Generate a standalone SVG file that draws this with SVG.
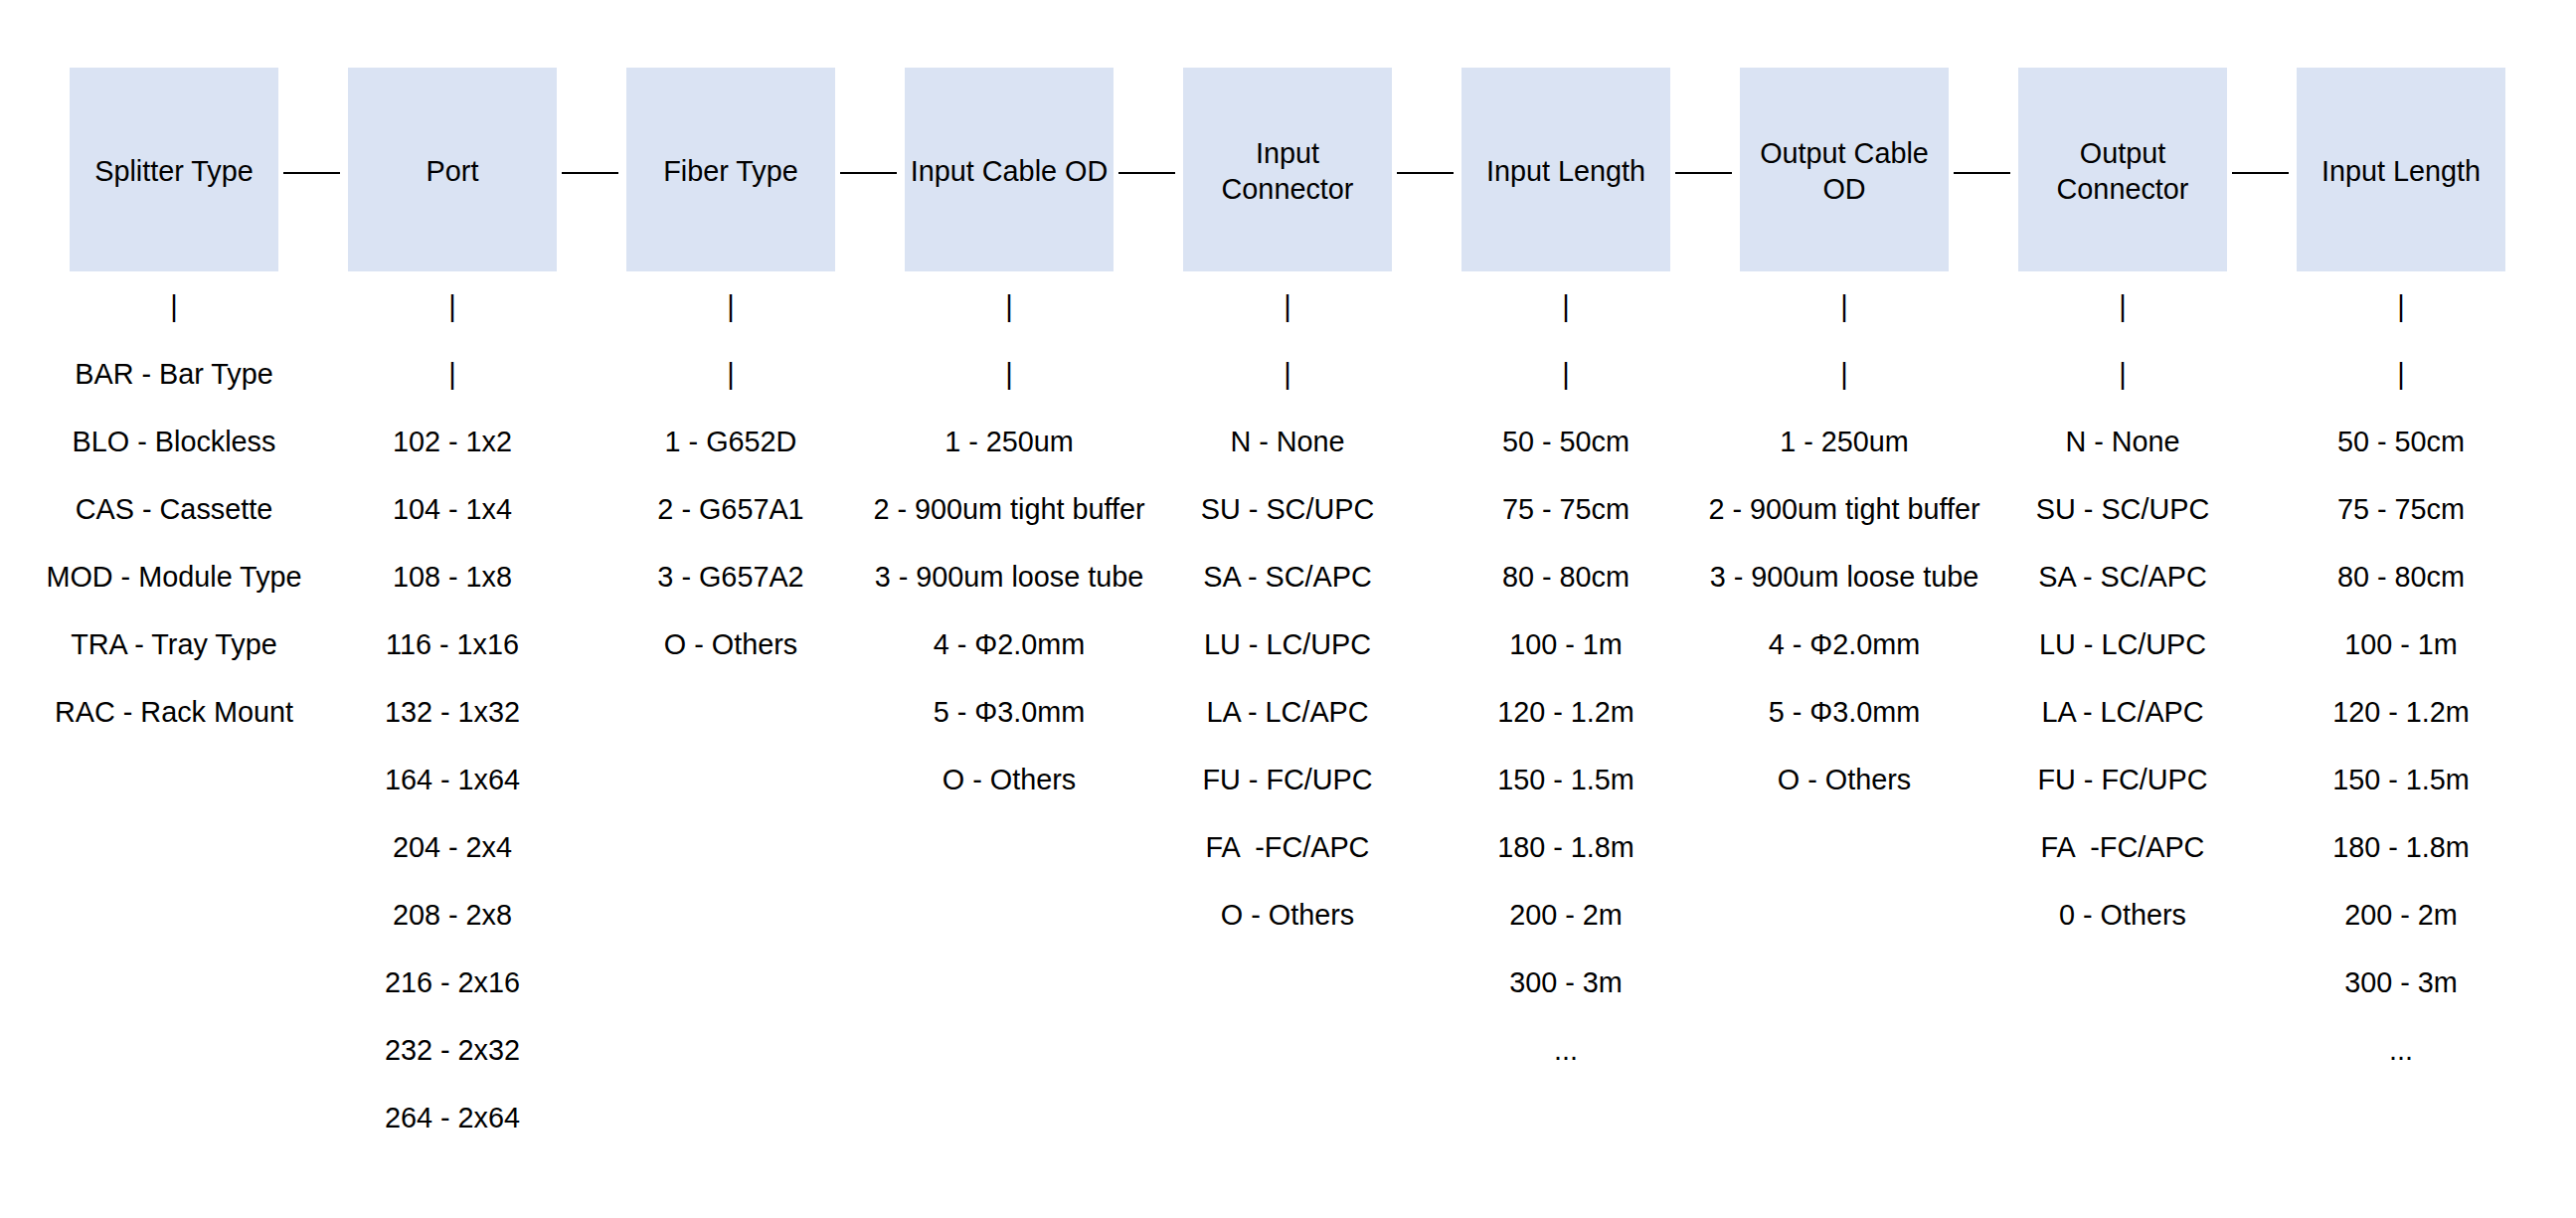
<svg xmlns="http://www.w3.org/2000/svg" width="2591" height="1225" viewBox="0 0 2591 1225">
<style>
.box{fill:#DAE3F3;stroke:none}
.t{font-family:"Liberation Sans",Arial,sans-serif;font-size:28.8px;fill:#000;text-anchor:middle}
.c{stroke:#000;stroke-width:2;fill:none}
</style>
<rect width="2591" height="1225" fill="#fff"/>
<g id="connectors">
<line class="c" x1="285" y1="174" x2="342" y2="174"/>
<line class="c" x1="565" y1="174" x2="622" y2="174"/>
<line class="c" x1="845" y1="174" x2="902" y2="174"/>
<line class="c" x1="1125" y1="174" x2="1182" y2="174"/>
<line class="c" x1="1405" y1="174" x2="1462" y2="174"/>
<line class="c" x1="1685" y1="174" x2="1742" y2="174"/>
<line class="c" x1="1965" y1="174" x2="2022" y2="174"/>
<line class="c" x1="2245" y1="174" x2="2302" y2="174"/>
</g>
<g id="node-splitter-type"><rect class="box" x="70" y="68" width="210" height="205"/><text class="t" x="175" y="181.5">Splitter Type</text></g>
<g id="node-port"><rect class="box" x="350" y="68" width="210" height="205"/><text class="t" x="455" y="181.5">Port</text></g>
<g id="node-fiber-type"><rect class="box" x="630" y="68" width="210" height="205"/><text class="t" x="735" y="181.5">Fiber Type</text></g>
<g id="node-input-cable-od"><rect class="box" x="910" y="68" width="210" height="205"/><text class="t" x="1015" y="181.5">Input Cable OD</text></g>
<g id="node-input-connector"><rect class="box" x="1190" y="68" width="210" height="205"/><text class="t" x="1295" y="163.5">Input</text><text class="t" x="1295" y="199.5">Connector</text></g>
<g id="node-input-length"><rect class="box" x="1470" y="68" width="210" height="205"/><text class="t" x="1575" y="181.5">Input Length</text></g>
<g id="node-output-cable-od"><rect class="box" x="1750" y="68" width="210" height="205"/><text class="t" x="1855" y="163.5">Output Cable</text><text class="t" x="1855" y="199.5">OD</text></g>
<g id="node-output-connector"><rect class="box" x="2030" y="68" width="210" height="205"/><text class="t" x="2135" y="163.5">Output</text><text class="t" x="2135" y="199.5">Connector</text></g>
<g id="node-input-length-2"><rect class="box" x="2310" y="68" width="210" height="205"/><text class="t" x="2415" y="181.5">Input Length</text></g>

<g id="list-splitter-type">
<text class="t" x="175" y="318">|</text>
<text class="t" x="175" y="386">BAR - Bar Type</text>
<text class="t" x="175" y="454">BLO - Blockless</text>
<text class="t" x="175" y="522">CAS - Cassette</text>
<text class="t" x="175" y="590">MOD - Module Type</text>
<text class="t" x="175" y="658">TRA - Tray Type</text>
<text class="t" x="175" y="726">RAC - Rack Mount</text>
</g>
<g id="list-port">
<text class="t" x="455" y="318">|</text>
<text class="t" x="455" y="386">|</text>
<text class="t" x="455" y="454">102 - 1x2</text>
<text class="t" x="455" y="522">104 - 1x4</text>
<text class="t" x="455" y="590">108 - 1x8</text>
<text class="t" x="455" y="658">116 - 1x16</text>
<text class="t" x="455" y="726">132 - 1x32</text>
<text class="t" x="455" y="794">164 - 1x64</text>
<text class="t" x="455" y="862">204 - 2x4</text>
<text class="t" x="455" y="930">208 - 2x8</text>
<text class="t" x="455" y="998">216 - 2x16</text>
<text class="t" x="455" y="1066">232 - 2x32</text>
<text class="t" x="455" y="1134">264 - 2x64</text>
</g>
<g id="list-fiber-type">
<text class="t" x="735" y="318">|</text>
<text class="t" x="735" y="386">|</text>
<text class="t" x="735" y="454">1 - G652D</text>
<text class="t" x="735" y="522">2 - G657A1</text>
<text class="t" x="735" y="590">3 - G657A2</text>
<text class="t" x="735" y="658">O - Others</text>
</g>
<g id="list-input-cable-od">
<text class="t" x="1015" y="318">|</text>
<text class="t" x="1015" y="386">|</text>
<text class="t" x="1015" y="454">1 - 250um</text>
<text class="t" x="1015" y="522">2 - 900um tight buffer</text>
<text class="t" x="1015" y="590">3 - 900um loose tube</text>
<text class="t" x="1015" y="658">4 - Φ2.0mm</text>
<text class="t" x="1015" y="726">5 - Φ3.0mm</text>
<text class="t" x="1015" y="794">O - Others</text>
</g>
<g id="list-input-connector">
<text class="t" x="1295" y="318">|</text>
<text class="t" x="1295" y="386">|</text>
<text class="t" x="1295" y="454">N - None</text>
<text class="t" x="1295" y="522">SU - SC/UPC</text>
<text class="t" x="1295" y="590">SA - SC/APC</text>
<text class="t" x="1295" y="658">LU - LC/UPC</text>
<text class="t" x="1295" y="726">LA - LC/APC</text>
<text class="t" x="1295" y="794">FU - FC/UPC</text>
<text class="t" x="1295" y="862" xml:space="preserve">FA  -FC/APC</text>
<text class="t" x="1295" y="930">O - Others</text>
</g>
<g id="list-input-length">
<text class="t" x="1575" y="318">|</text>
<text class="t" x="1575" y="386">|</text>
<text class="t" x="1575" y="454">50 - 50cm</text>
<text class="t" x="1575" y="522">75 - 75cm</text>
<text class="t" x="1575" y="590">80 - 80cm</text>
<text class="t" x="1575" y="658">100 - 1m</text>
<text class="t" x="1575" y="726">120 - 1.2m</text>
<text class="t" x="1575" y="794">150 - 1.5m</text>
<text class="t" x="1575" y="862">180 - 1.8m</text>
<text class="t" x="1575" y="930">200 - 2m</text>
<text class="t" x="1575" y="998">300 - 3m</text>
<text class="t" x="1575" y="1066">...</text>
</g>
<g id="list-output-cable-od">
<text class="t" x="1855" y="318">|</text>
<text class="t" x="1855" y="386">|</text>
<text class="t" x="1855" y="454">1 - 250um</text>
<text class="t" x="1855" y="522">2 - 900um tight buffer</text>
<text class="t" x="1855" y="590">3 - 900um loose tube</text>
<text class="t" x="1855" y="658">4 - Φ2.0mm</text>
<text class="t" x="1855" y="726">5 - Φ3.0mm</text>
<text class="t" x="1855" y="794">O - Others</text>
</g>
<g id="list-output-connector">
<text class="t" x="2135" y="318">|</text>
<text class="t" x="2135" y="386">|</text>
<text class="t" x="2135" y="454">N - None</text>
<text class="t" x="2135" y="522">SU - SC/UPC</text>
<text class="t" x="2135" y="590">SA - SC/APC</text>
<text class="t" x="2135" y="658">LU - LC/UPC</text>
<text class="t" x="2135" y="726">LA - LC/APC</text>
<text class="t" x="2135" y="794">FU - FC/UPC</text>
<text class="t" x="2135" y="862" xml:space="preserve">FA  -FC/APC</text>
<text class="t" x="2135" y="930">0 - Others</text>
</g>
<g id="list-input-length-2">
<text class="t" x="2415" y="318">|</text>
<text class="t" x="2415" y="386">|</text>
<text class="t" x="2415" y="454">50 - 50cm</text>
<text class="t" x="2415" y="522">75 - 75cm</text>
<text class="t" x="2415" y="590">80 - 80cm</text>
<text class="t" x="2415" y="658">100 - 1m</text>
<text class="t" x="2415" y="726">120 - 1.2m</text>
<text class="t" x="2415" y="794">150 - 1.5m</text>
<text class="t" x="2415" y="862">180 - 1.8m</text>
<text class="t" x="2415" y="930">200 - 2m</text>
<text class="t" x="2415" y="998">300 - 3m</text>
<text class="t" x="2415" y="1066">...</text>
</g>
</svg>
